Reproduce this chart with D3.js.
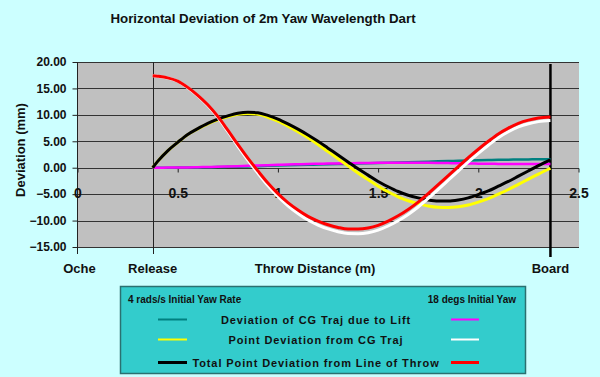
<!DOCTYPE html>
<html>
<head>
<meta charset="utf-8">
<script src="https://cdn.jsdelivr.net/npm/d3@7"></script>
<style>
  html, body { margin: 0; padding: 0; background: #CCFFFF; }
  svg { display: block; font-family: "Liberation Sans", Arial, sans-serif; }
</style>
</head>
<body>
<svg id="chart" width="600" height="377"></svg>
<script>
// ---------- data ----------
const distance = [0.375, 0.4, 0.45, 0.5, 0.55, 0.6, 0.65, 0.7, 0.75, 0.8, 0.85, 0.9, 0.95, 1.0, 1.05, 1.1, 1.15, 1.2, 1.25, 1.3, 1.35, 1.4, 1.45, 1.5, 1.55, 1.6, 1.65, 1.7, 1.75, 1.8, 1.85, 1.9, 1.95, 2.0, 2.05, 2.1, 2.15, 2.2, 2.25, 2.3, 2.36];

// 4 rads/s initial yaw rate
const cgLiftRate   = [0, 0, 0.01, 0.02, 0.04, 0.06, 0.09, 0.12, 0.16, 0.2, 0.25, 0.3, 0.35, 0.4, 0.45, 0.5, 0.55, 0.6, 0.65, 0.7, 0.75, 0.8, 0.85, 0.9, 0.95, 1.0, 1.05, 1.1, 1.15, 1.2, 1.25, 1.3, 1.35, 1.4, 1.45, 1.5, 1.52, 1.55, 1.57, 1.6, 1.6];
const pointDevRate = [0, 1.2, 3.19, 4.78, 6.26, 7.34, 8.31, 9.08, 9.64, 10.1, 10.25, 10.1, 9.55, 8.8, 7.85, 6.8, 5.65, 4.4, 3.05, 1.7, 0.35, -1.0, -2.25, -3.5, -4.55, -5.5, -6.25, -6.8, -7.25, -7.5, -7.55, -7.4, -7.05, -6.5, -5.85, -5.0, -4.12, -3.15, -2.17, -1.2, -0.1];
const totalDevRate = [0, 1.2, 3.2, 4.8, 6.3, 7.4, 8.4, 9.2, 9.8, 10.3, 10.5, 10.4, 9.9, 9.2, 8.3, 7.3, 6.2, 5.0, 3.7, 2.4, 1.1, -0.2, -1.4, -2.6, -3.6, -4.5, -5.2, -5.7, -6.1, -6.3, -6.3, -6.1, -5.7, -5.1, -4.4, -3.5, -2.6, -1.6, -0.6, 0.4, 1.5];

// 18 degs initial yaw
const cgLiftYaw   = [0, 0.01, 0.02, 0.04, 0.06, 0.1, 0.14, 0.18, 0.24, 0.3, 0.36, 0.42, 0.48, 0.54, 0.6, 0.65, 0.7, 0.74, 0.78, 0.82, 0.85, 0.88, 0.9, 0.92, 0.93, 0.94, 0.94, 0.93, 0.92, 0.9, 0.87, 0.84, 0.8, 0.77, 0.74, 0.72, 0.7, 0.69, 0.68, 0.68, 0.68];
const pointDevYaw = [17.4, 17.29, 16.98, 16.36, 15.14, 13.6, 11.76, 9.52, 6.86, 4.1, 1.44, -1.02, -3.38, -5.44, -7.2, -8.65, -9.9, -10.84, -11.58, -12.12, -12.45, -12.48, -12.3, -11.82, -11.03, -10.04, -8.84, -7.43, -5.82, -4.1, -2.37, -0.64, 1.1, 2.73, 4.26, 5.68, 6.8, 7.71, 8.32, 8.72, 8.92];
const totalDevYaw = [17.4, 17.3, 17.0, 16.4, 15.2, 13.7, 11.9, 9.7, 7.1, 4.4, 1.8, -0.6, -2.9, -4.9, -6.6, -8.0, -9.2, -10.1, -10.8, -11.3, -11.6, -11.6, -11.4, -10.9, -10.1, -9.1, -7.9, -6.5, -4.9, -3.2, -1.5, 0.2, 1.9, 3.5, 5.0, 6.4, 7.5, 8.4, 9.0, 9.4, 9.6];

const yTicks = [-15, -10, -5, 0, 5, 10, 15, 20];
const xTicks = [0, 0.5, 1, 1.5, 2, 2.5];
const markerNames = ["Oche", "Release", "Board"];
const markerDistance = [0, 0.375, 2.36];
const seriesNames = ["Deviation of CG Traj due to Lift", "Point Deviation from CG Traj", "Total Point Deviation from Line of Throw"];
const groupNames = ["4 rads/s Initial Yaw Rate", "18 degs Initial Yaw"];

// ---------- chart ----------
const svg = d3.select("#chart");
const x = d3.scaleLinear().domain([0, 2.5]).range([77.5, 578.5]);
const y = d3.scaleLinear().domain([-15, 20]).range([247, 62]);

svg.append("rect").attr("width", 600).attr("height", 377).attr("fill", "#CCFFFF");

svg.append("text").attr("x", 263).attr("y", 23).attr("text-anchor", "middle")
  .attr("font-size", 13.3).attr("font-weight", "bold").attr("fill", "#111")
  .text("Horizontal Deviation of 2m Yaw Wavelength Dart");

// plot area
svg.append("rect").attr("x", x(0)).attr("y", y(20))
  .attr("width", x(2.5) - x(0) + 0.5).attr("height", y(-15) - y(20)).attr("fill", "#C0C0C0");

// gridlines
svg.append("g").selectAll("line").data(yTicks).join("line")
  .attr("x1", x(0)).attr("x2", x(2.5) + 0.5)
  .attr("y1", d => Math.round(y(d)) + 0.5).attr("y2", d => Math.round(y(d)) + 0.5)
  .attr("stroke", "#333").attr("stroke-width", 1);

// y axis
const yAxis = svg.append("g").attr("transform", `translate(${x(0)},0)`)
  .call(d3.axisLeft(y).tickValues(yTicks).tickFormat(d3.format(".2f")).tickSize(5).tickPadding(6));
yAxis.select(".domain").remove();
yAxis.append("line").attr("x1", 0).attr("x2", 0).attr("y1", y(20)).attr("y2", 254).attr("stroke", "#222");
yAxis.selectAll(".tick line").attr("stroke", "#222");
yAxis.selectAll("text").attr("font-size", 12).attr("font-weight", "bold").attr("fill", "#111")
  .attr("font-family", "Liberation Sans, Arial, sans-serif");

svg.append("text").attr("transform", "translate(25,150) rotate(-90)").attr("text-anchor", "middle")
  .attr("font-size", 13).attr("font-weight", "bold").attr("fill", "#111").text("Deviation (mm)");

// x axis at zero
const xAxis = svg.append("g").attr("transform", `translate(0,${Math.round(y(0)) + 0.5})`)
  .call(d3.axisBottom(x).tickValues(xTicks).tickFormat(d3.format("")).tickSizeInner(4).tickSizeOuter(0).tickPadding(16));
xAxis.select(".domain").remove();
xAxis.selectAll(".tick line").attr("stroke", "#222");
xAxis.selectAll("text").attr("font-size", 14).attr("font-weight", "bold").attr("fill", "#111")
  .attr("font-family", "Liberation Sans, Arial, sans-serif");

// release / oche / board markers
svg.append("line").attr("x1", Math.round(x(markerDistance[1])) + 0.5).attr("x2", Math.round(x(markerDistance[1])) + 0.5)
  .attr("y1", y(20)).attr("y2", 254).attr("stroke", "#222");
svg.append("line").attr("x1", x(markerDistance[2])).attr("x2", x(markerDistance[2]))
  .attr("y1", 64).attr("y2", 257).attr("stroke", "#000").attr("stroke-width", 2.5);

svg.append("g").selectAll("text").data(markerNames).join("text")
  .attr("x", (d, i) => x(markerDistance[i]) + (i === 0 ? 2 : 0)).attr("y", 273)
  .attr("text-anchor", "middle").attr("font-size", 13).attr("font-weight", "bold").attr("fill", "#111")
  .text(d => d);
svg.append("text").attr("x", 315).attr("y", 273).attr("text-anchor", "middle")
  .attr("font-size", 13).attr("font-weight", "bold").attr("fill", "#111").text("Throw Distance (m)");

// series
const series = [
  { vals: cgLiftRate,   color: "#008080", w: 2.5 },
  { vals: cgLiftYaw,    color: "#FF00FF", w: 2.5 },
  { vals: pointDevRate, color: "#FFFF00", w: 3 },
  { vals: totalDevRate, color: "#000000", w: 3 },
  { vals: pointDevYaw,  color: "#FFFFFF", w: 3 },
  { vals: totalDevYaw,  color: "#FF0000", w: 3 }
];
const line = d3.line().x((d, i) => x(distance[i])).y(d => y(d)).curve(d3.curveMonotoneX);
svg.append("g").selectAll("path").data(series).join("path")
  .attr("d", s => line(s.vals)).attr("fill", "none")
  .attr("stroke", s => s.color).attr("stroke-width", s => s.w).attr("stroke-linejoin", "round");

// legend
const lg = svg.append("g");
lg.append("rect").attr("x", 120.5).attr("y", 286.5).attr("width", 405).attr("height", 87)
  .attr("fill", "#33CCCC").attr("stroke", "#2A7070").attr("stroke-width", 1.5);
lg.append("text").attr("x", 128).attr("y", 303).attr("font-size", 10).attr("font-weight", "bold").attr("fill", "#111").text(groupNames[0]);
lg.append("text").attr("x", 516).attr("y", 303).attr("text-anchor", "end").attr("font-size", 10).attr("font-weight", "bold").attr("fill", "#111").text(groupNames[1]);
const rowY = [319.5, 339.5, 362.5];
const leftColors = ["#008080", "#FFFF00", "#000000"];
const rightColors = ["#FF00FF", "#FFFFFF", "#FF0000"];
lg.selectAll(".lt").data(seriesNames).join("text")
  .attr("x", 316).attr("y", (d, i) => rowY[i] + 4).attr("text-anchor", "middle")
  .attr("font-size", 11).attr("font-weight", "bold").attr("letter-spacing", 0.9).attr("fill", "#111").text(d => d);
lg.selectAll(".ll").data(leftColors).join("line")
  .attr("x1", 158).attr("x2", 187).attr("y1", (d, i) => rowY[i]).attr("y2", (d, i) => rowY[i])
  .attr("stroke", d => d).attr("stroke-width", (d, i) => i === 2 ? 3 : 2);
lg.selectAll(".rl").data(rightColors).join("line")
  .attr("x1", 451).attr("x2", 479).attr("y1", (d, i) => rowY[i]).attr("y2", (d, i) => rowY[i])
  .attr("stroke", d => d).attr("stroke-width", (d, i) => i === 2 ? 3 : 2);
</script>
</body>
</html>
